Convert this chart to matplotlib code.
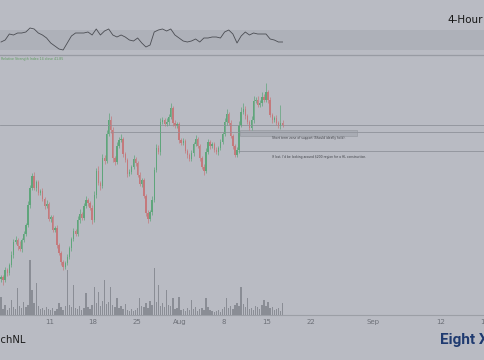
import pandas as pd
import matplotlib
matplotlib.use('Agg')
import matplotlib.pyplot as plt
import matplotlib.dates as mdates
from matplotlib.patches import Rectangle

# 8-hour candle closes (price units)
closes = [137.0, 135.5, 140.5, 139.0, 143.0, 148.0, 154.5, 155.5, 152.5, 151.0,
          155.5, 158.5, 163.0, 173.0, 181.5, 187.5, 181.5, 184.5, 179.0, 180.0,
          176.0, 172.5, 173.5, 166.0, 167.0, 160.5, 161.5, 153.0, 149.0, 144.5,
          142.0, 144.0, 147.0, 151.5, 156.0, 160.0, 158.5, 165.5, 168.5, 166.5,
          172.5, 175.5, 174.0, 171.5, 165.5, 178.0, 190.0, 184.0, 182.5, 196.5,
          195.0, 208.5, 215.5, 210.5, 196.5, 194.5, 202.5, 205.5, 206.0, 198.5,
          195.5, 188.5, 189.5, 192.0, 196.0, 194.0, 188.0, 183.5, 185.5, 177.5,
          169.0, 166.0, 169.5, 175.5, 190.5, 201.5, 199.5, 214.5, 215.5, 213.5,
          214.5, 217.0, 221.5, 214.0, 212.5, 213.5, 205.5, 204.0, 205.0, 200.0,
          198.0, 196.0, 199.0, 203.5, 206.0, 202.5, 196.5, 192.0, 190.0, 199.5,
          204.5, 202.5, 203.5, 200.5, 199.5, 201.5, 204.5, 208.5, 214.5, 218.5,
          214.0, 207.5, 202.5, 198.0, 200.5, 213.0, 219.5, 221.0, 217.5, 214.5,
          211.5, 215.5, 225.0, 225.5, 223.0, 224.0, 227.0, 225.5, 229.5, 225.5,
          218.0, 215.5, 216.5, 214.0, 212.5, 214.0, 213.0]
first_open = 136.0

wick_up = [1.0, 0.8, 1.5, 1.2, 1.0, 2.0, 1.5, 1.8, 1.0, 2.5,
           1.0, 1.5, 1.2, 2.0, 1.5, 1.5, 2.0, 1.0, 1.2, 0.8,
           1.5, 1.0, 1.8, 1.0, 0.8, 1.2, 1.0, 1.5, 0.8, 1.0,
           1.2, 1.0, 1.5, 1.0, 1.2, 1.5, 1.0, 1.8, 2.5, 1.0,
           1.5, 2.0, 1.2, 1.0, 1.5, 2.0, 1.5, 2.5, 1.0, 2.0,
           1.5, 1.8, 3.5, 2.0, 1.5, 1.0, 2.0, 1.5, 2.5, 1.0,
           1.2, 1.0, 1.5, 1.0, 2.0, 1.2, 1.0, 1.5, 1.0, 1.2,
           1.0, 1.5, 1.0, 2.0, 1.5, 2.0, 1.5, 2.0, 1.5, 1.0,
           2.0, 1.5, 2.5, 1.0, 1.5, 1.0, 1.2, 1.0, 1.5, 1.0,
           1.2, 1.0, 1.5, 1.2, 2.0, 1.0, 1.2, 1.0, 1.5, 2.0,
           1.5, 1.0, 1.2, 1.0, 1.5, 1.0, 1.5, 1.2, 2.0, 2.5,
           1.0, 1.5, 1.0, 1.2, 1.5, 2.0, 2.5, 3.0, 1.5, 1.0,
           1.2, 2.0, 2.5, 1.5, 2.0, 1.5, 2.5, 1.5, 4.5, 1.0,
           1.5, 1.2, 1.0, 1.5, 1.0, 9.0, 1.5]

wick_dn = [1.5, 2.5, 1.0, 1.5, 1.2, 1.0, 1.5, 1.0, 1.8, 1.0,
           1.5, 1.0, 1.2, 1.0, 1.5, 1.0, 1.2, 1.5, 1.0, 1.2,
           1.0, 1.5, 1.0, 1.2, 1.5, 1.0, 1.2, 1.5, 1.0, 1.5,
           1.5, 1.0, 1.2, 1.0, 1.5, 1.0, 1.2, 1.0, 1.5, 1.0,
           1.2, 1.0, 1.5, 1.0, 2.0, 1.0, 1.5, 1.2, 2.0, 1.0,
           1.5, 1.0, 1.2, 1.5, 2.0, 1.5, 1.0, 1.2, 1.0, 1.5,
           1.2, 1.5, 1.0, 1.2, 1.0, 1.5, 1.2, 1.0, 1.5, 1.2,
           1.5, 2.0, 1.0, 1.5, 1.0, 1.2, 1.0, 1.5, 1.0, 1.2,
           1.0, 1.5, 1.0, 1.5, 1.2, 1.0, 1.5, 1.0, 1.2, 1.0,
           1.5, 1.2, 1.0, 1.5, 1.0, 1.2, 1.5, 1.0, 2.0, 1.0,
           1.2, 1.5, 1.0, 1.2, 1.0, 1.5, 1.0, 1.2, 1.0, 1.5,
           1.2, 1.0, 1.5, 1.2, 1.0, 1.5, 1.0, 1.2, 1.5, 1.0,
           1.2, 1.0, 1.5, 1.0, 1.2, 1.0, 1.5, 1.0, 1.2, 1.5,
           1.0, 1.5, 1.0, 1.2, 1.0, 1.5, 1.2]

# volume per candle (thousands)
volume = [18, 6, 10, 5, 7, 15, 8, 6, 27, 9, 7, 13, 8, 10, 55, 25, 12, 32, 9, 6,
          7, 5, 8, 6, 5, 7, 4, 6, 12, 8, 5, 9, 45, 10, 8, 30, 7, 6, 9, 5,
          7, 22, 8, 6, 10, 28, 12, 23, 9, 14, 35, 11, 13, 28, 10, 8, 17, 7, 9, 6,
          11, 5, 4, 6, 4, 5, 7, 17, 9, 8, 12, 7, 14, 10, 47, 13, 30, 9, 12, 8,
          25, 10, 9, 17, 6, 7, 18, 5, 6, 4, 7, 5, 15, 6, 8, 4, 6, 7, 5, 17,
          8, 5, 4, 3, 4, 5, 3, 6, 8, 17, 7, 9, 6, 10, 12, 9, 28, 11, 8, 17,
          6, 7, 5, 9, 8, 6, 10, 15, 9, 13, 7, 8, 5, 6, 7, 4, 12]

# RSI, one value per 16 hours
rsi = [46, 50, 62, 60, 64, 64, 66, 74, 72, 64, 60, 54, 44, 38, 32, 30, 44, 58, 64, 64,
       64, 66, 60, 72, 60, 68, 72, 60, 56, 60, 56, 50, 48, 54, 44, 36, 40, 66, 70, 72,
       68, 72, 60, 54, 48, 46, 48, 52, 46, 54, 54, 56, 56, 54, 66, 70, 62, 44, 58, 66,
       60, 64, 62, 62, 62, 52, 50, 46, 46]

tick_dates = ['2022-07-11', '2022-07-18', '2022-07-25', '2022-08-01', '2022-08-08',
              '2022-08-15', '2022-08-22', '2022-09-01', '2022-09-12', '2022-09-19']
tick_labels = ['11', '18', '25', 'Aug', '8', '15', '22', 'Sep', '12', '19']

resistance = 213.0
zone_line = 209.75
zone_low, zone_high = 207.5, 210.5
lost_level = 200.0
note_1 = 'Short term zone of support (Should ideally hold).'
note_2 = "If lost, I'd be looking around $200 region for a HL construction."

bg = '#b9bbc3'
up_col = '#5fa57b'
dn_col = '#c4797c'

t = pd.date_range('2022-07-03 04:00', periods=len(closes), freq='8h')
x = mdates.date2num(t)
t_rsi = mdates.date2num(pd.date_range('2022-07-03 04:00', periods=len(rsi), freq='16h'))
x0 = mdates.date2num(pd.Timestamp('2022-07-03'))
x1 = x0 + 78.1

opens = [first_open] + closes[:-1]

fig = plt.figure(figsize=(4.85, 3.6), dpi=100, facecolor=bg)

# oscillator pane
ax_osc = fig.add_axes([0, 303 / 360, 1, 57 / 360])
ax_osc.set_facecolor(bg)
ax_osc.axhspan(30, 70, color='#aeb1b9', lw=0)
ax_osc.axhline(20, color='#989ba3', lw=0.9)
ax_osc.plot(t_rsi, rsi, color='#4b4d53', lw=0.6)
ax_osc.set_xlim(x0, x1)
ax_osc.set_ylim(16, 130)
ax_osc.axis('off')

# price pane
ax = fig.add_axes([0, 45 / 360, 1, 258 / 360])
ax_vol = ax.twinx()
ax.set_zorder(ax_vol.get_zorder() + 1)
ax.patch.set_visible(False)
ax_vol.set_facecolor(bg)

ax_vol.bar(x, volume, width=0.22, color='#8a8d95', lw=0)
ax_vol.set_ylim(0, 258)
ax_vol.axis('off')

ax.axhline(resistance, color='#8f929a', lw=0.6)
ax.hlines(zone_line, mdates.date2num(pd.Timestamp('2022-07-20 17:00')), x1, color='#8f929a', lw=0.6)
ax.hlines(lost_level, mdates.date2num(pd.Timestamp('2022-08-10 08:00')), x1, color='#8f929a', lw=0.6)
bx = mdates.date2num(pd.Timestamp('2022-08-10 15:00'))
ax.add_patch(Rectangle((bx, zone_low), 18.9, zone_high - zone_low,
                       facecolor='#a9acb4', edgecolor='#989ba2', lw=0.5))

for xi, o, c, u, d in zip(x, opens, closes, wick_up, wick_dn):
    col = up_col if c >= o else dn_col
    ax.vlines(xi, min(o, c) - d, max(o, c) + u, color=col, lw=0.5)
    ax.bar(xi, max(abs(c - o), 0.3), bottom=min(o, c), width=0.22, color=col, lw=0)

tx = mdates.date2num(pd.Timestamp('2022-08-15 19:00'))
ax.text(tx, 206.5, note_1, fontsize=2.2, color='#3d3f45', va='center')
ax.text(tx, 197.0, note_2, fontsize=2.2, color='#3d3f45', va='center')

ax.set_xlim(x0, x1)
ax.set_ylim(118, 247)
ax.set_xticks(mdates.date2num(pd.to_datetime(tick_dates)))
ax.set_xticklabels(tick_labels)
ax.tick_params(axis='x', length=0, pad=3, labelsize=5, labelcolor='#6d7078')
ax.set_yticks([])
for s in ['top', 'left', 'right']:
    ax.spines[s].set_visible(False)
ax.spines['bottom'].set_color('#9c9fa6')
ax.spines['bottom'].set_linewidth(0.8)

fig.text(0.002, 1 - 59 / 360, 'Relative Strength Index 14 close 41.85',
         fontsize=2.3, color='#5f9c60', va='center')
fig.text(483 / 485, 1 - 20 / 360, '4-Hour', fontsize=7.5, color='#151515',
         ha='right', va='center')
fig.text(26 / 485, 1 - 340 / 360, 'CryptoMichNL', fontsize=7.2, color='#1b1b1b',
         ha='right', va='center')
fig.text(440 / 485, 1 - 340 / 360, 'Eight X', fontsize=11, fontweight='bold',
         family=['Roboto', 'DejaVu Sans'], color='#1f3a70',
         ha='left', va='center')

fig.savefig('out.png', dpi=100, facecolor=bg)
